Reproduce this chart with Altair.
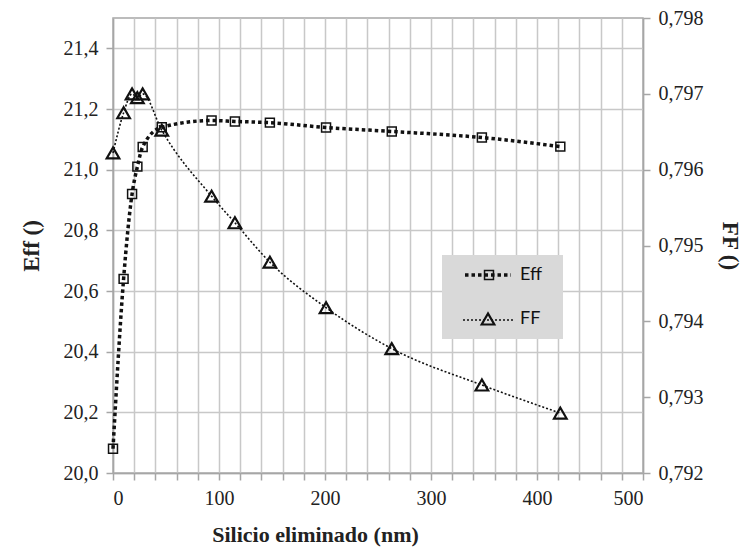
import altair as alt
import pandas as pd

# Data
silicio = [0, 10, 18, 23, 28, 46, 93, 115, 148, 201, 263, 348, 422]
eff = [20.08, 20.64, 20.92, 21.01, 21.075, 21.14, 21.162, 21.159, 21.155, 21.139, 21.126, 21.106, 21.076]
ff = [0.79622, 0.79675, 0.79700, 0.79695, 0.79700, 0.79652, 0.79565, 0.79530, 0.79478, 0.79418, 0.79364, 0.79316, 0.79279]

x_ticks = list(range(0, 501, 20))
eff_ticks = [20.0, 20.2, 20.4, 20.6, 20.8, 21.0, 21.2, 21.4]
ff_ticks = [0.792, 0.793, 0.794, 0.795, 0.796, 0.797, 0.798]

df = pd.DataFrame({"x": silicio, "eff": eff, "ff": ff})
one = pd.DataFrame({"k": [0]})

SERIF = "Liberation Serif, Times New Roman, DejaVu Serif, serif"
AX_COL = "#a6a6a6"
GRID_COL = "#c8c8c8"

x_axis = alt.Axis(
    values=x_ticks,
    labelExpr="datum.value % 100 == 0 ? datum.label : ''",
    title="Silicio eliminado (nm)",
    grid=True, gridColor=GRID_COL, gridWidth=1.5,
    domainColor=AX_COL, domainWidth=1.5, tickColor=AX_COL, tickWidth=1.5, tickSize=7,
    labelFont=SERIF, labelFontSize=20, labelColor="#222", labelPadding=8,
    titleFont=SERIF, titleFontSize=22, titleFontWeight="bold", titleColor="#222",
    titlePadding=16, titleX=202, titleAlign="center",
)
x_enc = alt.X("x:Q", scale=alt.Scale(domain=[0, 500], nice=False, zero=False), axis=x_axis)

eff_axis = alt.Axis(
    orient="left", values=eff_ticks,
    labelExpr="replace(format(datum.value, '.1f'), '.', ',')",
    title="Eff ()",
    grid=True, gridColor=GRID_COL, gridWidth=1.5,
    domainColor=AX_COL, domainWidth=1.5, tickColor=AX_COL, tickWidth=1.5, tickSize=7,
    labelFont=SERIF, labelFontSize=20, labelColor="#222", labelPadding=8,
    titleFont=SERIF, titleFontSize=23, titleFontWeight="bold", titleColor="#222", titlePadding=20,
)
eff_y = alt.Y("eff:Q", scale=alt.Scale(domain=[20.0, 21.5], nice=False, zero=False), axis=eff_axis)

ff_axis = alt.Axis(
    orient="right", values=ff_ticks,
    labelExpr="replace(format(datum.value, '.3f'), '.', ',')",
    title="FF ()",
    grid=False,
    domainColor=AX_COL, domainWidth=1.5, tickColor=AX_COL, tickWidth=1.5, tickSize=7,
    labelFont=SERIF, labelFontSize=20, labelColor="#222", labelPadding=8,
    titleFont=SERIF, titleFontSize=23, titleFontWeight="bold", titleColor="#222", titlePadding=14,
)
ff_y = alt.Y("ff:Q", scale=alt.Scale(domain=[0.792, 0.798], nice=False, zero=False), axis=ff_axis)

base = alt.Chart(df)

eff_line = base.mark_line(
    color="#111", strokeWidth=3.5, strokeDash=[3.5, 3], interpolate="monotone", strokeCap="butt"
).encode(x=x_enc, y=eff_y)
eff_pts = base.mark_point(
    shape="square", size=80, filled=False, color="#111", strokeWidth=1.5, opacity=1
).encode(x=x_enc, y=eff_y)

ff_line = base.mark_line(
    color="#111", strokeWidth=1.6, strokeDash=[2, 2], interpolate="monotone"
).encode(x=x_enc, y=ff_y)
ff_pts = base.mark_point(
    shape="triangle-up", size=160, filled=False, color="#111", strokeWidth=2.2, opacity=1
).encode(x=x_enc, y=ff_y)

eff_layer = alt.layer(eff_line, eff_pts)
ff_layer = alt.layer(ff_line, ff_pts)

# Custom legend box
lg = alt.Chart(one)
leg_box = lg.mark_rect(color="#d9d9d9").encode(
    x=alt.value(329), x2=alt.value(450), y=alt.value(237), y2=alt.value(321)
)
leg_eff_line = lg.mark_rule(color="#111", strokeWidth=3.5, strokeDash=[3.5, 3]).encode(
    x=alt.value(352), x2=alt.value(398), y=alt.value(257)
)
leg_eff_pt = lg.mark_point(shape="square", size=80, filled=False, color="#111", strokeWidth=1.5, opacity=1).encode(
    x=alt.value(376), y=alt.value(257)
)
leg_eff_txt = lg.mark_text(text="Eff", font="Lato", fontSize=18, align="left", baseline="middle", color="#111").encode(
    x=alt.value(407), y=alt.value(257)
)
leg_ff_line = lg.mark_rule(color="#111", strokeWidth=1.6, strokeDash=[2, 2]).encode(
    x=alt.value(350), x2=alt.value(400), y=alt.value(302)
)
leg_ff_pt = lg.mark_point(shape="triangle-up", size=160, filled=False, color="#111", strokeWidth=2.2, opacity=1).encode(
    x=alt.value(375), y=alt.value(301)
)
leg_ff_txt = lg.mark_text(text="FF", font="Lato", fontSize=18, align="left", baseline="middle", color="#111").encode(
    x=alt.value(407), y=alt.value(301)
)

chart = alt.layer(
    eff_layer, ff_layer,
    leg_box, leg_eff_line, leg_eff_pt, leg_eff_txt, leg_ff_line, leg_ff_pt, leg_ff_txt,
).resolve_scale(y="independent").properties(
    width=530, height=455,
    padding={"left": 113, "top": 18, "right": 98, "bottom": 84},
    autosize=alt.AutoSizeParams(type="none"),
    background="white",
).configure_view(stroke=AX_COL, strokeWidth=1.5)

chart.save("out.html", embed_options={"renderer": "svg", "actions": False})
